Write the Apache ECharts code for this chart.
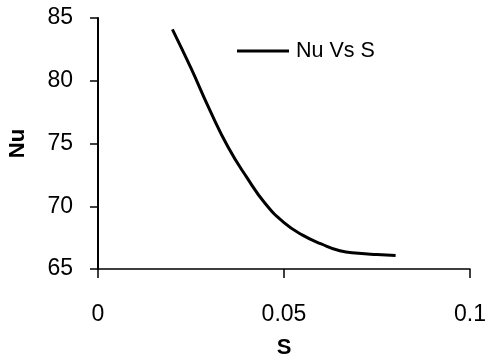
<!DOCTYPE html>
<html><head><meta charset="utf-8">
<script src="https://cdn.jsdelivr.net/npm/echarts@6/dist/echarts.min.js"></script>
<style>html,body{margin:0;padding:0;background:#fff}#c{width:487px;height:358px}</style>
</head><body><div id="c"></div>
<script>
const sValues = [0.02, 0.025, 0.03, 0.035, 0.04, 0.045, 0.05, 0.055, 0.06, 0.065, 0.07, 0.075, 0.08];
const nuValues = [84.1, 81.0, 77.7, 74.7, 72.3, 70.2, 68.7, 67.7, 67.0, 66.45, 66.25, 66.15, 66.08];
const seriesName = 'Nu Vs S';
const xTicks = [0, 0.05, 0.1];
const yTicks = [65, 70, 75, 80, 85];

const FONT = 'Liberation Sans';
const chart = echarts.init(document.getElementById('c'), null, {renderer: 'canvas'});
chart.setOption({
  animation: false,
  backgroundColor: '#fff',
  grid: {left: 98, top: 18, width: 372, height: 251, containLabel: false, outerBoundsMode: 'none'},
  legend: {
    left: 232, top: 35, padding: 5,
    itemWidth: 52, itemHeight: 3, itemGap: 10,
    textStyle: {fontFamily: FONT, fontSize: 21.5, color: '#000', padding: [0, 0, 0, 2]},
    data: [{name: seriesName, icon: 'rect', itemStyle: {color: '#000'}}]
  },
  xAxis: {
    type: 'value', min: 0, max: 0.1, interval: 0.05,
    name: 'S', nameLocation: 'middle', nameGap: 68,
    nameTextStyle: {fontFamily: FONT, fontSize: 22, fontWeight: 'bold', color: '#000'},
    axisLine: {show: true, lineStyle: {color: '#000', width: 1.5}},
    axisTick: {show: true, length: 9, lineStyle: {color: '#000', width: 1.5}},
    splitLine: {show: false},
    axisLabel: {margin: 34, fontFamily: FONT, fontSize: 23, color: '#000',
      formatter: v => xTicks.includes(v) ? String(v) : ''}
  },
  yAxis: {
    type: 'value', min: 65, max: 85, interval: 5,
    name: 'Nu', nameLocation: 'middle', nameGap: 69, nameRotate: 90,
    nameTextStyle: {fontFamily: FONT, fontSize: 22, fontWeight: 'bold', color: '#000'},
    axisLine: {show: true, lineStyle: {color: '#000', width: 2}},
    axisTick: {show: true, length: 8, lineStyle: {color: '#000', width: 1.5}},
    splitLine: {show: false},
    axisLabel: {margin: 25, fontFamily: FONT, fontSize: 23, color: '#000',
      formatter: v => yTicks.includes(v) ? String(v) : ''}
  },
  series: [{
    name: seriesName, type: 'line', smooth: 0.5,
    symbol: 'none',
    lineStyle: {color: '#000', width: 3},
    itemStyle: {color: '#000'},
    data: sValues.map((s, i) => [s, nuValues[i]])
  }]
});
</script></body></html>
